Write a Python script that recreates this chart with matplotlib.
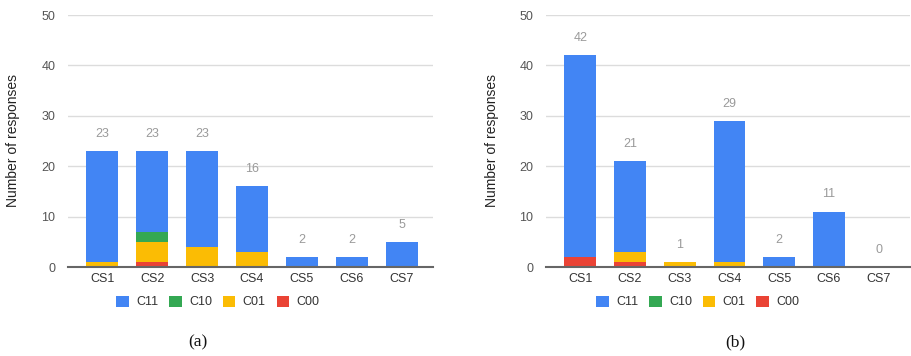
import numpy as np
import matplotlib
matplotlib.use('Agg')
import matplotlib.pyplot as plt
from matplotlib.patches import Patch

plt.rcParams['font.family'] = ['Liberation Sans', 'DejaVu Sans']

# categories and stacked counts per panel
cases = ['CS1', 'CS2', 'CS3', 'CS4', 'CS5', 'CS6', 'CS7']
series = ['C11', 'C10', 'C01', 'C00']
colors = {'C11': '#4285F4', 'C10': '#34A853', 'C01': '#FBBC04', 'C00': '#EA4335'}

a_c11 = [22, 16, 19, 13, 2, 2, 5]
a_c10 = [0, 2, 0, 0, 0, 0, 0]
a_c01 = [1, 4, 4, 3, 0, 0, 0]
a_c00 = [0, 1, 0, 0, 0, 0, 0]

b_c11 = [40, 18, 0, 28, 2, 11, 0]
b_c10 = [0, 0, 0, 0, 0, 0, 0]
b_c01 = [0, 2, 1, 1, 0, 0, 0]
b_c00 = [2, 1, 0, 0, 0, 0, 0]

panels = [
    ('(a)', {'C11': a_c11, 'C10': a_c10, 'C01': a_c01, 'C00': a_c00}),
    ('(b)', {'C11': b_c11, 'C10': b_c10, 'C01': b_c01, 'C00': b_c00}),
]

W, H = 912, 356
fig = plt.figure(figsize=(W / 100, H / 100), dpi=100)

ax_px = [(68, 433), (546, 910)]
legend_x = [218, 698]
caption_x = [198, 735]
ylabel_x = [13, 492]

for i, (caption, data) in enumerate(panels):
    x0, x1 = ax_px[i]
    ax = fig.add_axes([x0 / W, (H - 267) / H, (x1 - x0) / W, (267 - 15) / H])
    x = np.arange(len(cases))
    bottom = np.zeros(len(cases))
    # stack from bottom: C00, C01, C10, C11
    for s in ['C00', 'C01', 'C10', 'C11']:
        vals = np.array(data[s], dtype=float)
        ax.bar(x, vals, width=0.64, bottom=bottom, color=colors[s], zorder=3)
        bottom += vals
    for xi, tot in zip(x, bottom):
        ax.text(xi, tot + 3.4, '%d' % tot, ha='center', va='center',
                fontsize=9, color='#9a9a9a', zorder=4)

    ax.set_xlim(-0.69, 6.63)
    ax.set_ylim(0, 50)
    ax.set_yticks([0, 10, 20, 30, 40, 50])
    ax.set_xticks(x)
    ax.set_xticklabels(cases)
    ax.grid(axis='y', color='#dcdcdc', linewidth=1, zorder=0)
    for side in ['top', 'right', 'left']:
        ax.spines[side].set_visible(False)
    ax.spines['bottom'].set_color('#666666')
    ax.spines['bottom'].set_linewidth(1.5)
    ax.spines['bottom'].set_zorder(5)
    ax.tick_params(axis='y', length=0, pad=9, labelsize=9, labelcolor='#555555')
    ax.tick_params(axis='x', length=0, pad=4, labelsize=9, labelcolor='#333333')

    fig.text(ylabel_x[i] / W, 1 - 140 / H, 'Number of responses', rotation=90,
             ha='center', va='center', fontsize=10, color='#222222')

    handles = [Patch(facecolor=colors[s], edgecolor='none', label=s) for s in series]
    fig.legend(handles=handles, loc='center', ncol=4, frameon=False,
               bbox_to_anchor=(legend_x[i] / W, 1 - 302 / H),
               fontsize=9, handlelength=1.0, handleheight=1.0,
               handletextpad=0.6, columnspacing=0.85, labelcolor='#333333')

    fig.text(caption_x[i] / W, 1 - 342 / H, caption, ha='center', va='center',
             fontsize=12.5, family='Liberation Serif', color='#111111')

fig.savefig('out.png', dpi=100)
